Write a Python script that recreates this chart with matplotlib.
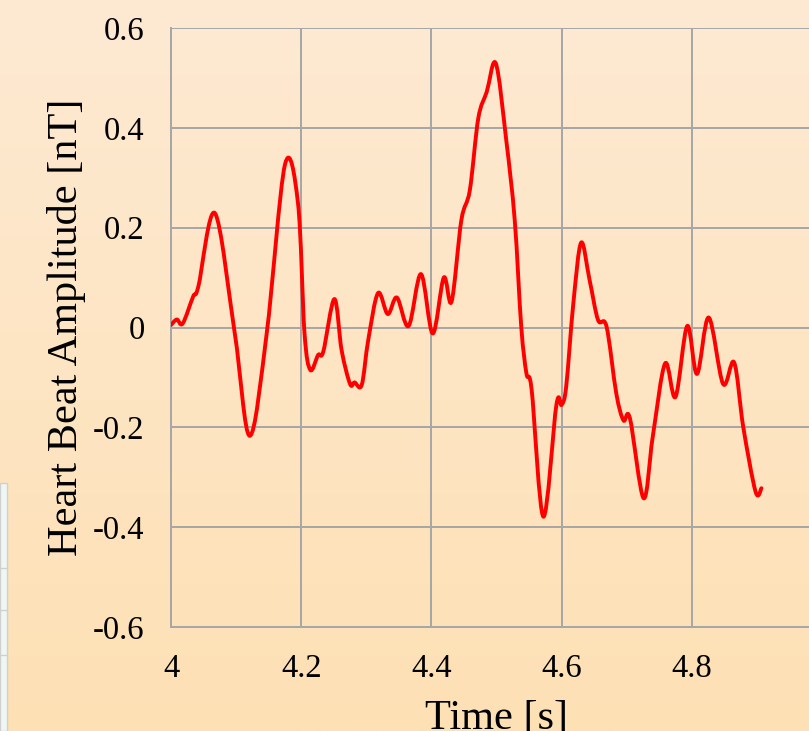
import numpy as np
import matplotlib
matplotlib.use("Agg")
import matplotlib.pyplot as plt
from matplotlib.path import Path
from matplotlib.patches import PathPatch, Rectangle

# Data
time_s = [4.000, 4.009, 4.018, 4.034, 4.042, 4.0675, 4.098, 4.121, 4.147, 4.175,
          4.195, 4.205, 4.214, 4.226, 4.234, 4.251, 4.262, 4.275, 4.282, 4.293,
          4.303, 4.318, 4.333, 4.347, 4.365, 4.384, 4.402, 4.419, 4.431, 4.446,
          4.459, 4.472, 4.485, 4.499, 4.515, 4.528, 4.538, 4.546, 4.554, 4.572,
          4.592, 4.600, 4.607, 4.618, 4.630, 4.643, 4.656, 4.669, 4.684, 4.695,
          4.705, 4.726, 4.740, 4.759, 4.775, 4.793, 4.808, 4.826, 4.848, 4.865,
          4.879, 4.898, 4.907]
amplitude_nT = [0.005, 0.016, 0.008, 0.062, 0.082, 0.229, -0.012, -0.217, -0.012, 0.326,
                0.250, -0.010, -0.085, -0.055, -0.048, 0.057, -0.045, -0.113, -0.110, -0.115,
                -0.025, 0.069, 0.027, 0.060, 0.003, 0.107, -0.012, 0.100, 0.052, 0.215,
                0.275, 0.419, 0.472, 0.529, 0.375, 0.215, 0.002, -0.092, -0.125, -0.379,
                -0.155, -0.155, -0.119, 0.048, 0.170, 0.095, 0.015, 0.002, -0.132, -0.186,
                -0.182, -0.342, -0.219, -0.072, -0.139, 0.003, -0.093, 0.020, -0.113, -0.070,
                -0.199, -0.329, -0.322]
x_ticks = [4.0, 4.2, 4.4, 4.6, 4.8]
x_tick_labels = ["4", "4.2", "4.4", "4.6", "4.8"]
y_ticks = [-0.6, -0.4, -0.2, 0.0, 0.2, 0.4, 0.6]
y_tick_labels = ["-0.6", "-0.4", "-0.2", "0", "0.2", "0.4", "0.6"]

W, H = 809, 731
fig = plt.figure(figsize=(W / 100, H / 100), dpi=100)

# Background gradient
bg = fig.add_axes([0, 0, 1, 1], zorder=-10)
top = np.array([253, 234, 211]) / 255
bot = np.array([254, 224, 180]) / 255
t = np.linspace(0, 1, 256)[:, None]
grad = (top[None, :] * (1 - t) + bot[None, :] * t)[:, None, :]
bg.imshow(grad, aspect="auto", extent=[0, 1, 0, 1], origin="upper")
bg.set_xlim(0, 1); bg.set_ylim(0, 1)
bg.axis("off")
# Cropped table fragment on the left edge
bg.add_patch(Rectangle((0, 0), 7 / W, (731 - 483) / H, facecolor="#eef7f3",
                       edgecolor="#d0d0d0", lw=1.0))
for yy in [568, 610, 655]:
    bg.plot([0, 7 / W], [1 - yy / H] * 2, color="#d0d0d0", lw=1.0)

ax_left, ax_right = 171, 822
ax_top, ax_bottom = 28, 627
ax = fig.add_axes([ax_left / W, (H - ax_bottom) / H,
                   (ax_right - ax_left) / W, (ax_bottom - ax_top) / H])
ax.set_facecolor("none")
ax.set_xlim(4.0, 5.0)
ax.set_ylim(-0.6, 0.6)

serif = ["Liberation Serif", "DejaVu Serif"]
ax.set_xticks(x_ticks)
ax.set_xticklabels(x_tick_labels, fontsize=23.5, family=serif)
ax.set_yticks(y_ticks)
ax.set_yticklabels(y_tick_labels, fontsize=23.5, family=serif)
ax.tick_params(length=0, pad=19)
ax.tick_params(axis="x", pad=19)
ax.grid(True, color="#a6a6a6", lw=1.4)
for s in ["top", "right"]:
    ax.spines[s].set_visible(False)
for s in ["left", "bottom"]:
    ax.spines[s].set_color("#a6a6a6")
    ax.spines[s].set_linewidth(1.4)

ax.set_xlabel("Time [s]", fontsize=30.5, family=serif, labelpad=11)
ax.set_ylabel("Heart Beat Amplitude [nT]", fontsize=30.5, family=serif, labelpad=5)

# Smooth line (Excel-style Bezier through the data points)
xs = np.array(time_s); ys = np.array(amplitude_nT)
n = len(xs)
verts = [(xs[0], ys[0])]
codes = [Path.MOVETO]
k = 1 / 6.0
for i in range(n - 1):
    p0 = np.array([xs[max(i - 1, 0)], ys[max(i - 1, 0)]])
    p1 = np.array([xs[i], ys[i]])
    p2 = np.array([xs[i + 1], ys[i + 1]])
    p3 = np.array([xs[min(i + 2, n - 1)], ys[min(i + 2, n - 1)]])
    c1 = p1 + (p2 - p0) * k
    c2 = p2 - (p3 - p1) * k
    verts += [tuple(c1), tuple(c2), tuple(p2)]
    codes += [Path.CURVE4] * 3
ax.add_patch(PathPatch(Path(verts, codes), facecolor="none", edgecolor="#ff0000",
                       lw=2.8, capstyle="round", joinstyle="round", zorder=3))

fig.savefig("out.png", dpi=100)
